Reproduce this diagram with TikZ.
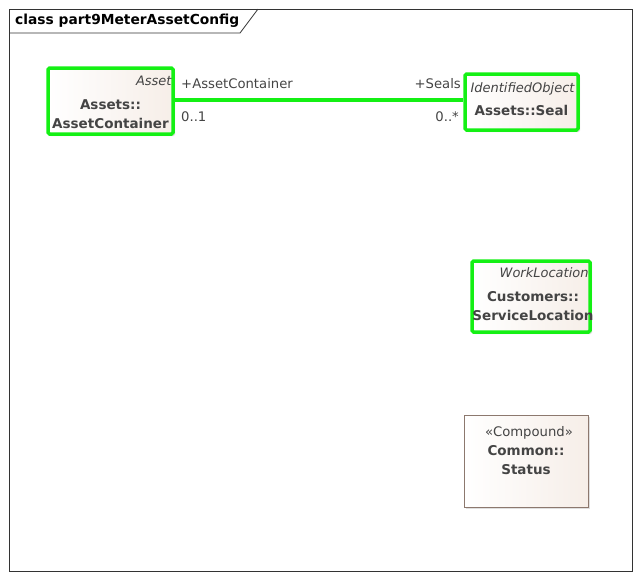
\documentclass[tikz,border=0pt]{standalone}
\usepackage{fontspec}
\setmainfont{DejaVu Sans}
\usetikzlibrary{positioning,shadows}

\definecolor{umlgreen}{RGB}{20,240,20}
\definecolor{umltext}{RGB}{68,68,68}
\definecolor{umlfill}{RGB}{246,238,232}
\definecolor{umledge}{RGB}{140,120,110}

\tikzset{
  classbox/.style={draw=umlgreen, line width=3.5pt, rounded corners=1.5pt,
    left color=white, right color=umlfill, inner sep=0pt,
    drop shadow={shadow xshift=2pt, shadow yshift=-2pt, fill=black!25}},
  plainbox/.style={classbox, draw=umledge, line width=0.8pt, rounded corners=0pt},
  stereo/.style={font=\fontsize{13}{19}\selectfont\itshape, text=umltext, inner sep=0pt},
  cname/.style={font=\fontsize{13.5}{19}\selectfont\bfseries, text=umltext, inner sep=0pt, align=center},
  role/.style={font=\fontsize{13.2}{19}\selectfont, text=umltext, inner sep=0pt},
  assoc/.style={draw=umlgreen, line width=3.5pt}
}

\begin{document}
\begin{tikzpicture}[x=1pt, y=-1pt]

\useasboundingbox (0,0) rectangle (641,579);

% frame with title tab
\draw[black!80, line width=0.8pt] (9,9) rectangle (632,571);
\draw[black!80, line width=0.8pt] (9,33) -- (240,33) -- (258,9);
\node[anchor=west, font=\fontsize{13.8}{16}\selectfont\bfseries, inner sep=0pt] (title) at (15,21) {class part9MeterAssetConfig};

% classes
\node[classbox, minimum width=125pt, minimum height=66pt] (container) at (110.5,101) {};
\node[stereo, below left=10pt and 3pt of container.north east] (containerst) {Asset};
\node[cname] (containername) at (110.5,114) {Assets::\\AssetContainer};

\node[classbox, minimum width=113pt, minimum height=56pt] (seal) at (521.5,102) {};
\node[stereo, below left=10pt and 5pt of seal.north east] (sealst) {IdentifiedObject};
\node[cname] (sealname) at (521.5,110) {Assets::Seal};

\node[classbox, minimum width=118pt, minimum height=71pt] (location) at (531,296.5) {};
\node[stereo, below left=8pt and 3pt of location.north east] (locationst) {WorkLocation};
\node[cname] (locationname) at (533,306.5) {Customers::\\ServiceLocation};

\node[plainbox, minimum width=124pt, minimum height=92pt] (status) at (526,461) {};
\node[role] (statusst) at (529,433) {«Compound»};
\node[cname] (statusname) at (526,460) {Common::\\Status};

% association
\coordinate (a) at (container.east |- 0,100);
\coordinate (b) at (seal.west |- 0,100);
\draw[assoc] (a) -- (b);
\node[role, anchor=west] (rolea) at (181,84) {+AssetContainer};
\node[role, anchor=west] (multa) at (181,117) {0..1};
\node[role, anchor=east] (roleb) at (461,84) {+Seals};
\node[role, anchor=east] (multb) at (459,117) {0..*};

\end{tikzpicture}
\end{document}
